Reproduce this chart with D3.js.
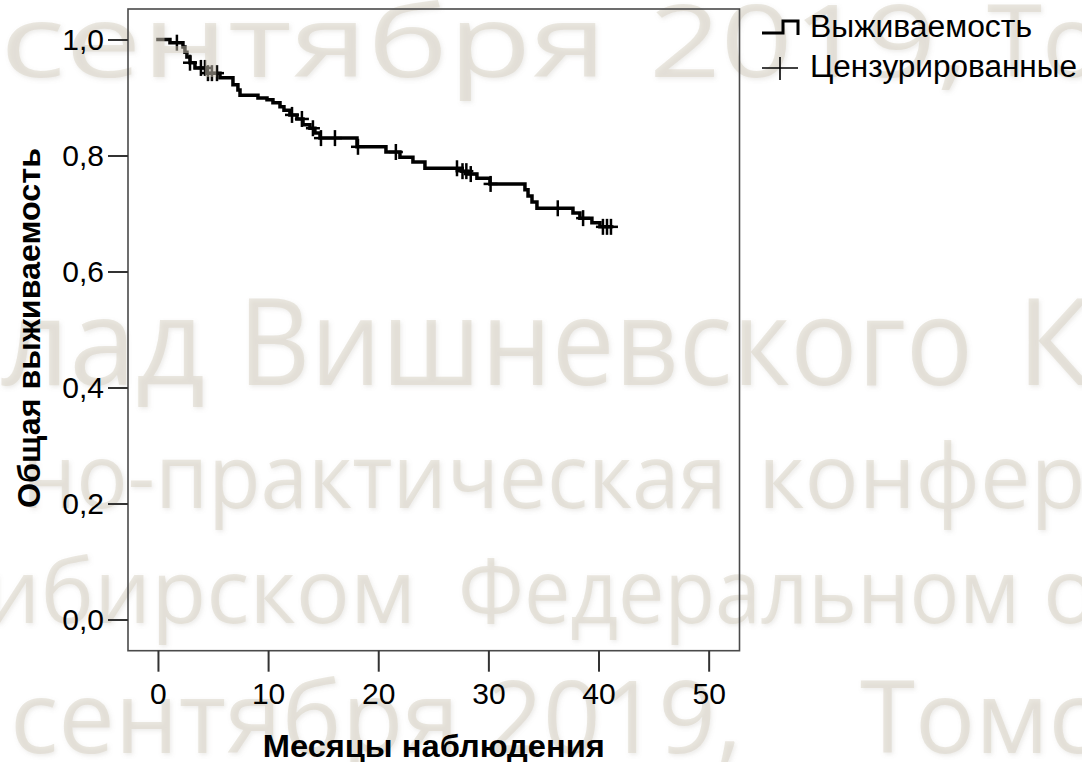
<!DOCTYPE html>
<html><head><meta charset="utf-8">
<script src="https://cdn.jsdelivr.net/npm/d3@7"></script>
<style>body{margin:0;background:#fff;overflow:hidden}</style>
</head><body>
<svg id="chart" width="1082" height="762"></svg>
<script>
// ---- data ----
const eventTimes = [1.09, 2.27, 2.45, 2.63, 2.91, 3.36, 4.45, 5.63, 6.81, 7.26, 7.45, 9.08, 9.9, 10.44, 11.08, 11.44, 11.98, 12.62, 13.17, 13.8, 14.25, 14.71, 18.07, 20.7, 21.97, 23.15, 24.24, 27.6, 28.15, 28.96, 30.14, 33.32, 33.6, 33.96, 34.41, 37.68, 38.31, 39.4, 40.13];
const eventSurv  = [0.9945, 0.987, 0.978, 0.970, 0.960, 0.951, 0.942, 0.934, 0.922, 0.913, 0.904, 0.899, 0.896, 0.891, 0.884, 0.878, 0.870, 0.863, 0.853, 0.847, 0.839, 0.830, 0.815, 0.806, 0.797, 0.789, 0.778, 0.773, 0.768, 0.761, 0.751, 0.741, 0.730, 0.720, 0.709, 0.701, 0.692, 0.684, 0.677];
const censorTimes = [1.72, 2.91, 3.9, 4.27, 4.54, 4.9, 5.36, 12.17, 13.07, 14.07, 14.8, 16.07, 18.16, 21.6, 27.15, 27.65, 28.0, 28.4, 30.2, 36.3, 38.6, 40.4, 40.77, 41.13];
const lastTime = 41.13;
const xTicks = [0, 10, 20, 30, 40, 50];
const yTicks = [0, 0.2, 0.4, 0.6, 0.8, 1.0];
const xTitle = "Месяцы наблюдения";
const yTitle = "Общая выживаемость";
const legendLabels = ["Выживаемость", "Цензурированные"];
const watermarkLines = ["сентября", "2019,", "Томск", "Влад", "Вишневского", "К", "но-практическая", "конференция", "Сибирском", "Федеральном", "округе", "сентября 2019,", "Томск"];

// ---- layout ----
const frame = {left: 128, top: 9, right: 739.5, bottom: 650.7};
const svg = d3.select("#chart");

const defs = svg.append("defs");
const f = defs.append("filter").attr("id", "wmShadow").attr("x", "-5%").attr("y", "-5%").attr("width", "110%").attr("height", "120%");
f.append("feDropShadow").attr("dx", 1.5).attr("dy", 2).attr("stdDeviation", 2)
  .attr("flood-color", "#8a8478").attr("flood-opacity", 0.35);

const x = d3.scaleLinear().domain([-2.72, 52.8]).range([frame.left, frame.right]);
const y = d3.scaleLinear().domain([-0.0538, 1.0526]).range([frame.bottom, frame.top]);

const fmt = v => d3.format(".1f")(v).replace(".", ",");
const tickFont = "'Liberation Sans', Arial, sans-serif";

// survival function
const pts = [[0, 1]].concat(eventTimes.map((t, i) => [t, eventSurv[i]]));
pts.push([lastTime, eventSurv[eventSurv.length - 1]]);
function S(t) {
  let s = 1;
  for (let i = 0; i < eventTimes.length; i++) if (eventTimes[i] <= t) s = eventSurv[i];
  return s;
}

// curve
const line = d3.line().x(d => x(d[0])).y(d => y(d[1])).curve(d3.curveStepAfter);
svg.append("path").datum(pts).attr("d", line)
  .attr("fill", "none").attr("stroke", "#000").attr("stroke-width", 3.5)
  .attr("stroke-linejoin", "miter").attr("stroke-linecap", "square");

// censor marks
const cg = svg.append("g");
censorTimes.forEach(t => {
  const cx = x(t), cy = y(S(t));
  cg.append("line").attr("x1", cx - 7).attr("x2", cx + 7).attr("y1", cy).attr("y2", cy)
    .attr("stroke", "#000").attr("stroke-width", 2.5);
  cg.append("line").attr("x1", cx).attr("x2", cx).attr("y1", cy - 8).attr("y2", cy + 8)
    .attr("stroke", "#000").attr("stroke-width", 2.5);
});

// watermark (drawn over the plot, semi-transparent)
const wm = svg.append("g").attr("fill", "#d2cbbd").attr("fill-opacity", 0.45)
  .attr("filter", "url(#wmShadow)")
  .attr("font-family", "'Open Sans', 'Noto Sans', sans-serif");
const wmLayout = [
  {x: 0,    y: 77,  size: 100, len: 607, anchor: "start"},
  {x: 649,  y: 77,  size: 100, len: 320, anchor: "start"},
  {x: 987,  y: 77,  size: 100, len: null, anchor: "start"},
  {x: 205,  y: 385, size: 120, len: null, anchor: "end"},
  {x: 238,  y: 385, size: 120, len: 735, anchor: "start"},
  {x: 1017, y: 385, size: 120, len: null, anchor: "start"},
  {x: 22,   y: 508, size: 90,  len: 705, anchor: "start"},
  {x: 758,  y: 508, size: 90,  len: null, anchor: "start"},
  {x: 416,  y: 623, size: 90,  len: null, anchor: "end"},
  {x: 458,  y: 623, size: 90,  len: 562, anchor: "start"},
  {x: 1043, y: 623, size: 90,  len: null, anchor: "start"},
  {x: 10,   y: 753, size: 100, len: 732, anchor: "start"},
  {x: 860,  y: 753, size: 100, len: null, anchor: "start"}
];
watermarkLines.forEach((txt, i) => {
  const L = wmLayout[i];
  const t = wm.append("text").attr("x", L.x).attr("y", L.y)
    .attr("font-size", L.size).attr("text-anchor", L.anchor).text(txt);
  if (L.len) t.attr("textLength", L.len).attr("lengthAdjust", "spacingAndGlyphs");
});

// frame
svg.append("rect").attr("x", frame.left).attr("y", frame.top)
  .attr("width", frame.right - frame.left).attr("height", frame.bottom - frame.top)
  .attr("fill", "none").attr("stroke", "#4a4a4a").attr("stroke-width", 1.6);

// axes
const gy = svg.append("g").attr("transform", `translate(${frame.left},0)`)
  .call(d3.axisLeft(y).tickValues(yTicks).tickFormat(fmt).tickSize(20).tickPadding(4));
const gx = svg.append("g").attr("transform", `translate(0,${frame.bottom})`)
  .call(d3.axisBottom(x).tickValues(xTicks).tickFormat(d => d).tickSize(21).tickPadding(11));
[gx, gy].forEach(g => {
  g.select(".domain").remove();
  g.selectAll(".tick line").attr("stroke", "#333").attr("stroke-width", 2);
  g.selectAll(".tick text").attr("fill", "#000").attr("font-size", 30).attr("font-family", tickFont);
});

// titles
svg.append("text").attr("x", (frame.left + frame.right) / 2).attr("y", 757)
  .attr("text-anchor", "middle").attr("font-family", tickFont).attr("font-weight", "bold")
  .attr("font-size", 32).attr("textLength", 342).attr("lengthAdjust", "spacingAndGlyphs").text(xTitle);
svg.append("text").attr("transform", "translate(40,328) rotate(-90)")
  .attr("text-anchor", "middle").attr("font-family", tickFont).attr("font-weight", "bold")
  .attr("font-size", 32).attr("textLength", 360).attr("lengthAdjust", "spacingAndGlyphs").text(yTitle);

// legend
const lg = svg.append("g");
lg.append("path").attr("d", "M762,33 H783 V21 H798 V35")
  .attr("fill", "none").attr("stroke", "#000").attr("stroke-width", 3);
lg.append("line").attr("x1", 762).attr("x2", 798).attr("y1", 68).attr("y2", 68)
  .attr("stroke", "#000").attr("stroke-width", 1.6);
lg.append("line").attr("x1", 780).attr("x2", 780).attr("y1", 57).attr("y2", 80)
  .attr("stroke", "#000").attr("stroke-width", 1.6);
const legLen = [222, 267];
legendLabels.forEach((lab, i) => {
  lg.append("text").attr("x", 810).attr("y", 37 + i * 40)
    .attr("font-family", tickFont).attr("font-size", 31)
    .attr("textLength", legLen[i]).attr("lengthAdjust", "spacingAndGlyphs").text(lab);
});
</script>
</body></html>
